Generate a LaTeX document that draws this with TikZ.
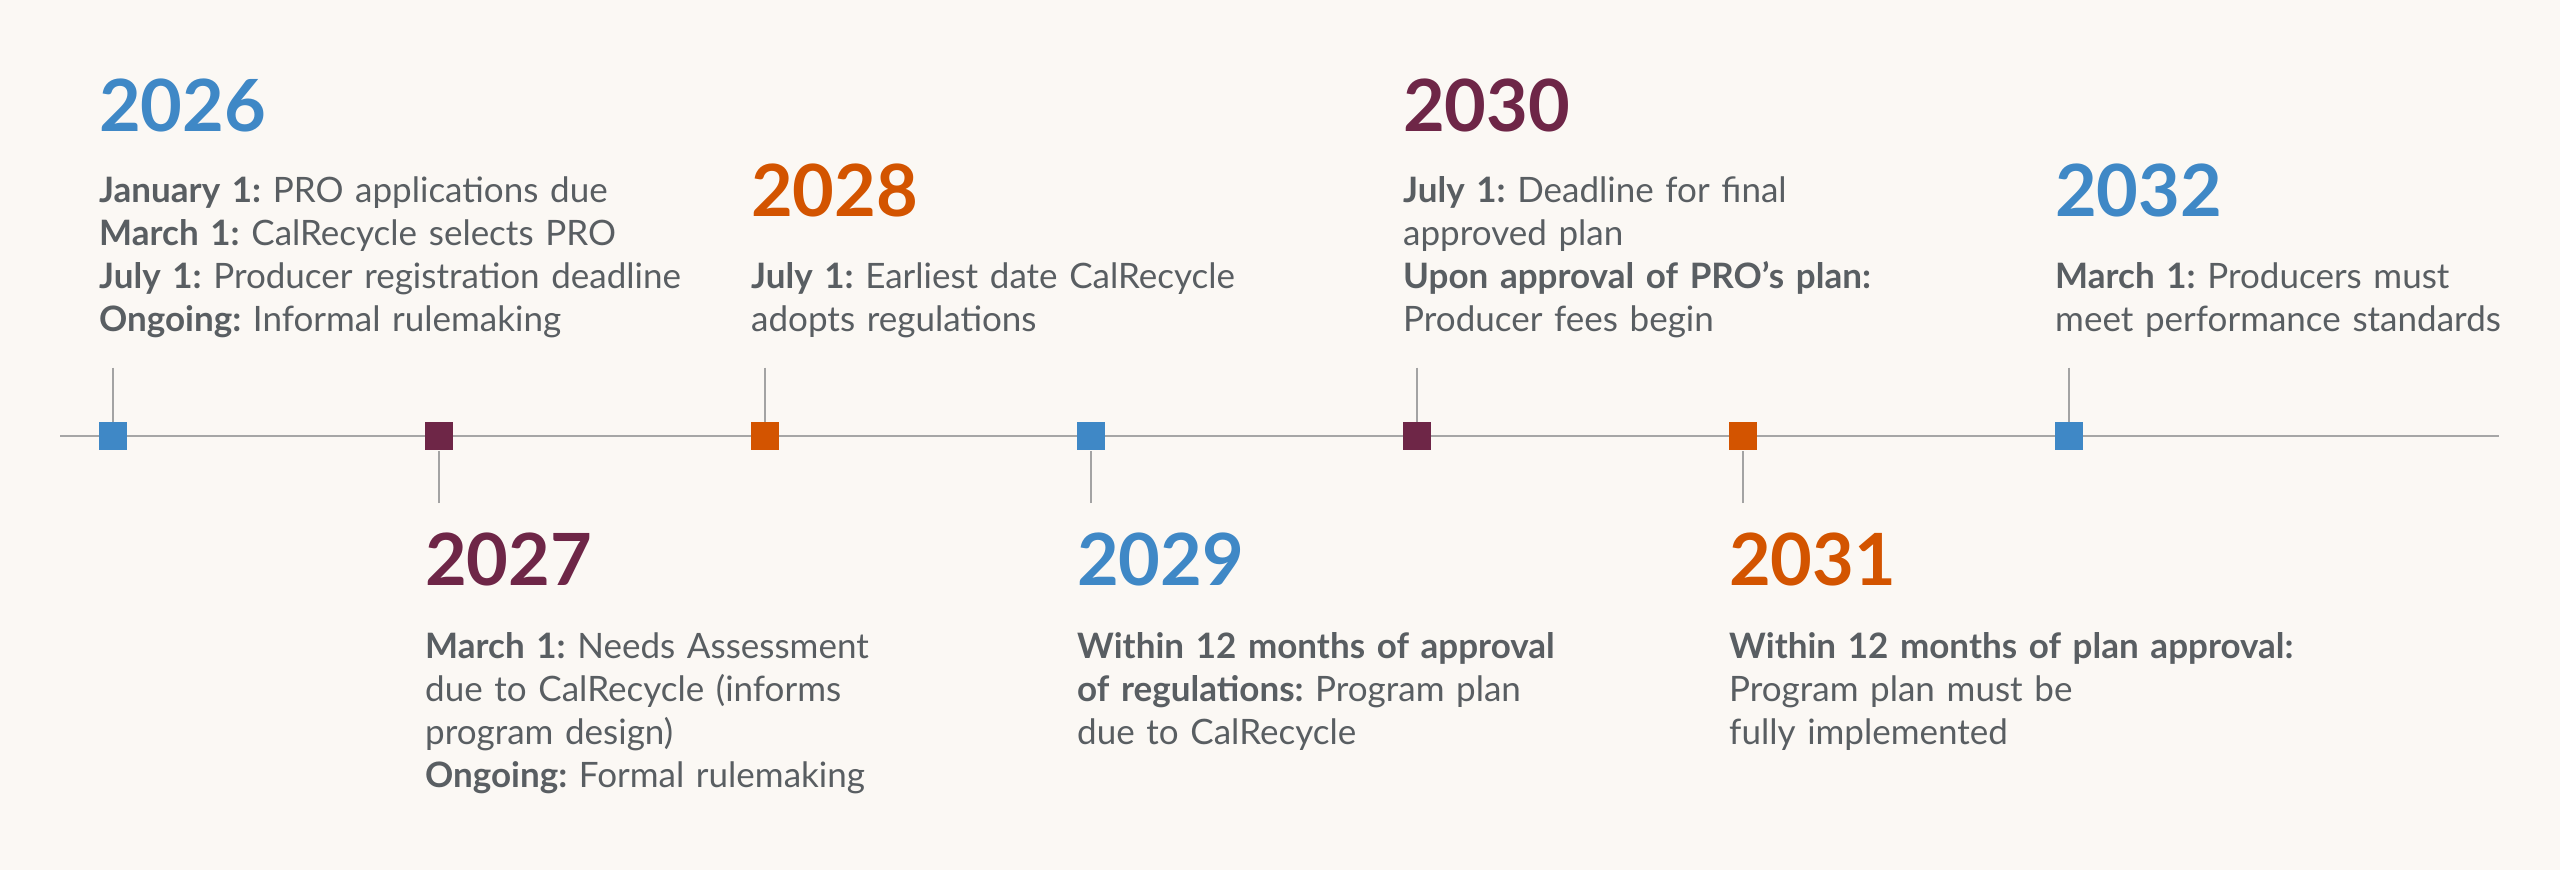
\documentclass[tikz,border=0pt]{standalone}
\usepackage{fontspec}
\setmainfont{Lato}
\definecolor{bg}{HTML}{FBF8F4}
\definecolor{cblue}{HTML}{3F88C6}
\definecolor{corange}{HTML}{D35400}
\definecolor{cmaroon}{HTML}{6E2647}
\definecolor{txt}{HTML}{595E62}
\definecolor{axisc}{HTML}{A6A6A6}
\definecolor{tickc}{HTML}{A3A3A3}
\frenchspacing
\begin{document}
\begin{tikzpicture}[x=1pt,y=-1pt,
  yr/.style={anchor=base west, inner sep=0pt, font=\fontsize{72}{72}\selectfont\bfseries},
  body/.style={anchor=base west, inner sep=0pt, align=left, text width=620pt, text=txt,
               font=\fontsize{35}{43.3}\selectfont\frenchspacing},
  mk/.style={rectangle, minimum width=28.5pt, minimum height=28.6pt, inner sep=0pt, draw=none},
  tickline/.style={draw=tickc, line width=1.5pt},
  axisline/.style={draw=axisc, line width=2.2pt}]
\fill[bg] (0,0) rectangle (2560,870);
\useasboundingbox (0,0) rectangle (2560,870);

% axis
\coordinate (L) at (60,436);
\coordinate (R) at (2499,436);
\draw[axisline] (L) -- (R);

% markers
\node[mk, fill=cblue]   (m1) at (113,436) {};
\node[mk, fill=cmaroon] (m2) at (439,436) {};
\node[mk, fill=corange] (m3) at (765,436) {};
\node[mk, fill=cblue]   (m4) at (1091,436) {};
\node[mk, fill=cmaroon] (m5) at (1417,436) {};
\node[mk, fill=corange] (m6) at (1743,436) {};
\node[mk, fill=cblue]   (m7) at (2069,436) {};

% tick ends
\coordinate (t1) at (113,367.7);
\coordinate (t2) at (439,503);
\coordinate (t3) at (765,367.7);
\coordinate (t4) at (1091,503);
\coordinate (t5) at (1417,367.7);
\coordinate (t6) at (1743,503);
\coordinate (t7) at (2069,367.7);
\draw[tickline] (t1) -- (m1.north);
\draw[tickline] (t2) -- (m2.south);
\draw[tickline] (t3) -- (m3.north);
\draw[tickline] (t4) -- (m4.south);
\draw[tickline] (t5) -- (m5.north);
\draw[tickline] (t6) -- (m6.south);
\draw[tickline] (t7) -- (m7.north);

% 2026
\node[yr, text=cblue] (y1) at (99,131) {2026};
\node[body] (b1) at (99,202) {\textbf{January 1:} PRO applications due\\
\textbf{March 1:} CalRecycle selects PRO\\
\textbf{July 1:} Producer registration deadline\\
\textbf{Ongoing:} Informal rulemaking};

% 2027
\node[yr, text=cmaroon] (y2) at (425,585.5) {2027};
\node[body] (b2) at (425,658) {\textbf{March 1:} Needs Assessment\\
due to CalRecycle (informs\\
program design)\\
\textbf{Ongoing:} Formal rulemaking};

% 2028
\node[yr, text=corange] (y3) at (751,216) {2028};
\node[body] (b3) at (751,288) {\textbf{July 1:} Earliest date CalRecycle\\
adopts regulations};

% 2029
\node[yr, text=cblue] (y4) at (1077,585.5) {2029};
\node[body] (b4) at (1077,658) {\textbf{Within 12 months of approval}\\
\textbf{of regulations:} Program plan\\
due to CalRecycle};

% 2030
\node[yr, text=cmaroon] (y5) at (1403,131) {2030};
\node[body] (b5) at (1403,202) {\textbf{July 1:} Deadline for final\\
approved plan\\
\textbf{Upon approval of PRO’s plan:}\\
Producer fees begin};

% 2031
\node[yr, text=corange] (y6) at (1729,585.5) {2031};
\node[body] (b6) at (1729,658) {\textbf{Within 12 months of plan approval:}\\
Program plan must be\\
fully implemented};

% 2032
\node[yr, text=cblue] (y7) at (2055,216) {2032};
\node[body] (b7) at (2055,288) {\textbf{March 1:} Producers must\\
meet performance standards};
\end{tikzpicture}
\end{document}
